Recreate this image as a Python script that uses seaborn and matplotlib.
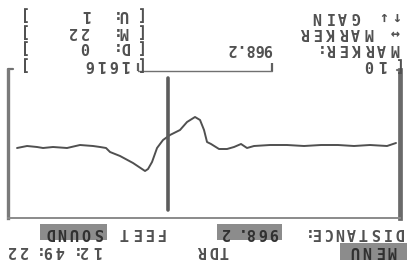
import numpy as np
import pandas as pd
import matplotlib
matplotlib.use("Agg")
import matplotlib.pyplot as plt
from matplotlib.patches import Rectangle
import seaborn as sns

# TDR trace (screen photographed upside down), distance in feet, amplitude in px units
feet = [16.7, 54.2, 125.2, 192.0, 258.7, 329.7, 400.6, 471.5, 542.5, 609.3,
        638.5, 663.5, 692.7, 721.9, 755.3, 788.7, 805.4, 817.9, 834.6, 855.5,
        888.8, 918.1, 959.8, 989.0, 1014.0, 1034.9, 1051.6, 1064.1, 1114.2, 1168.4,
        1210.2, 1226.9, 1251.9, 1281.1, 1335.4, 1389.6, 1448.0, 1489.8, 1514.8, 1556.5,
        1598.3]
amplitude = [-3, 0, -1, 0, -1, -1, 0, -1, -1, 0,
             2, -2, 1, 3, 3, -2, -4, -16, -26, -29,
             -24, -16, -11, -6, 2, 16, 23, 25, 17, 10,
             6, 2, 1, 0, -1, 2, 1, 2, 1, 0,
             2]

marker_ft = 968.2
window_ft = [534, 1093]
range_ft = 1636

# screen texts
left_rows = ["↑↓ GAIN", "↔ MARKER", "MARKER:", "[10"]
marker_text = "968.2"
right_labels = ["[U:", "[M:", "[D:", "[1616"]
right_values = ["1", "22", "0", ""]
clock = "12:49:22"

df = pd.DataFrame({"feet": feet, "amplitude": amplitude})

sns.set_theme(style="white")
plt.rcParams['font.family'] = ['DejaVu Sans Mono', 'DejaVu Sans']

W, H = 409, 268
FS = 11
fig = plt.figure(figsize=(W / 100, H / 100), dpi=100)
fig.patch.set_facecolor("white")


def px(x, y):
    return x / W, 1 - y / H


def screen_text(x0, y, s, cw=12.0, color="#505050"):
    # dot-matrix style: one glyph per cell, text runs right-to-left (upside down)
    for i, ch in enumerate(s):
        if ch != " ":
            fig.text(*px(x0 - (i + 0.5) * cw, y), ch, ha="center", va="center",
                     rotation=180, fontsize=FS, weight="bold", color=color,
                     family=['DejaVu Sans Mono', 'DejaVu Sans'])


def box(x1, x2, y1, y2):
    fig.patches.append(Rectangle((x1 / W, 1 - y2 / H), (x2 - x1) / W, (y2 - y1) / H,
                                 transform=fig.transFigure, fc="#8c8c8c", ec="none"))


# plot area in screen pixels: x 8..400, y 70..218
ax = fig.add_axes([8 / W, 1 - 218 / H, 392 / W, 148 / H])
ax.set_facecolor("white")

sns.lineplot(data=df, x="feet", y="amplitude", ax=ax, color="#505050", lw=1.4)

ax.axvline(marker_ft, ymin=0.054, ymax=0.946, color="#5c5c5c", lw=2.6)

ax.set_xlim(range_ft, 0)
ax.set_ylim(72, -76)

# view window bracket on the (upside down) frame edge
ax.plot(window_ft, [-75, -75], color="#707070", lw=1.0, clip_on=False)
ax.vlines(window_ft, -83, -75, color="#606060", lw=1.6, clip_on=False)
ax.plot([range_ft, range_ft - 20], [-77, -77], color="#707070", lw=1.6, clip_on=False)
ax.plot([0, 12], [-76, -76], color="#707070", lw=1.6, clip_on=False)

ax.set_xlabel("")
ax.set_ylabel("")
ax.set_xticks([])
ax.set_yticks([])
ax.spines["top"].set_visible(False)
ax.spines["left"].set_color("#7a7a7a")
ax.spines["left"].set_linewidth(2.4)
ax.spines["right"].set_color("#6a6a6a")
ax.spines["right"].set_linewidth(3.4)
ax.spines["bottom"].set_color("#8a8a8a")
ax.spines["bottom"].set_linewidth(1.4)

# upright bottom-left block (appears top right)
for s, y in zip(left_rows, [16, 32, 48, 65]):
    screen_text(401, y, s, cw=13.0)
fig.text(*px(272, 48), marker_text, ha="left", va="center", rotation=180,
         rotation_mode="anchor", fontsize=FS, weight="bold", color="#505050")

# upright bottom-right block (appears top left)
for lab, val, y in zip(right_labels, right_values, [14, 31, 47, 64]):
    screen_text(142, y, lab, cw=12.0)
    if val:
        screen_text(91, y, val, cw=12.0)
    screen_text(27, y, "]", cw=12.0)

# upright header rows (appear at the bottom)
screen_text(404, 232, "DISTANCE:", cw=11.8)
box(217, 282, 224, 240)
screen_text(280, 232, "968.2", cw=12.2, color="#303030")
screen_text(166, 232, "FEET", cw=12.0)
box(40, 107, 224, 240)
screen_text(104, 232, "SOUND", cw=12.2, color="#303030")
box(340, 407, 243, 260)
screen_text(398, 251, "MENU", cw=12.5, color="#303030")
screen_text(230, 251, "TDR", cw=12.0)
screen_text(102, 251, clock, cw=12.1)

plt.savefig("out.png", dpi=100, facecolor="white")
